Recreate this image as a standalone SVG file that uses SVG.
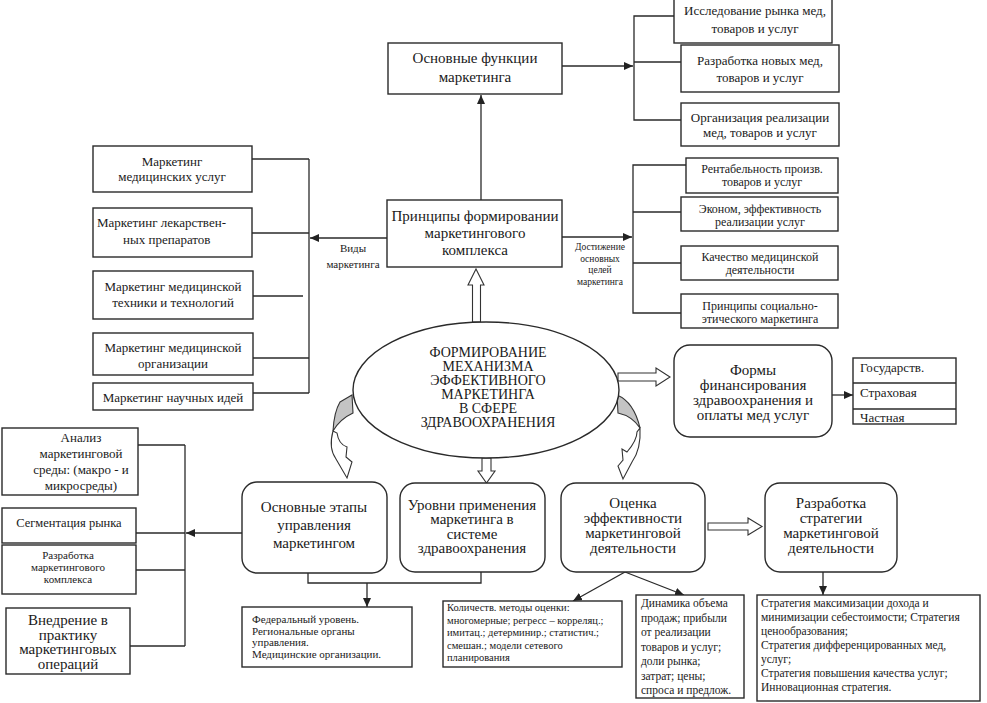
<svg xmlns="http://www.w3.org/2000/svg" width="987" height="703" viewBox="0 0 987 703" font-family="Liberation Serif, serif">
<style>
.box{fill:#fff;stroke:#2a2a2a;stroke-width:1.4}
.ln{fill:none;stroke:#2a2a2a;stroke-width:1.3}
.ar{fill:none;stroke:#2a2a2a;stroke-width:1.3;marker-end:url(#ah)}
.hol{fill:#fff;stroke:#333;stroke-width:1.1}
.gr{fill:#c4c4c4;stroke:#333;stroke-width:1.1}
text{fill:#1a1a1a}
.c{text-anchor:middle}
.f15{font-size:15px}
.f14{font-size:14px}
.f13{font-size:13px}
.f12{font-size:12px}
.f11{font-size:11.5px}
.f10{font-size:10.5px}
</style>
<defs>
<marker id="ah" markerUnits="userSpaceOnUse" markerWidth="9" markerHeight="8" refX="9" refY="4" orient="auto">
<path d="M0,0 L9,4 L0,8 Z" fill="#222"/>
</marker>
</defs>
<rect width="987" height="703" fill="#fff"/>

<g id="connectors">
<line class="ar" x1="562" y1="66" x2="633" y2="66"/>
<polyline class="ln" points="674,16 634,16 634,120 681,120"/>
<line class="ln" x1="634" y1="62" x2="681" y2="62"/>
<line class="ar" x1="481" y1="200" x2="481" y2="95"/>
<line class="ar" x1="387" y1="238" x2="310" y2="238"/>
<line class="ln" x1="309" y1="159" x2="309" y2="393"/>
<line class="ln" x1="252" y1="159" x2="309" y2="159"/>
<line class="ln" x1="252" y1="233" x2="309" y2="233"/>
<line class="ln" x1="253" y1="296" x2="303" y2="296"/>
<line class="ln" x1="253" y1="358" x2="309" y2="358"/>
<line class="ln" x1="253" y1="393" x2="309" y2="393"/>
<line class="ar" x1="562" y1="237" x2="632" y2="237"/>
<polyline class="ln" points="686,165 633,165 633,313 681,313"/>
<line class="ln" x1="633" y1="212" x2="681" y2="212"/>
<line class="ln" x1="633" y1="263" x2="681" y2="263"/>
<line class="ar" x1="832" y1="395" x2="853" y2="395"/>
<line class="ar" x1="242" y1="533" x2="186" y2="533"/>
<line class="ln" x1="185" y1="445" x2="185" y2="646"/>
<line class="ln" x1="138" y1="445" x2="185" y2="445"/>
<line class="ln" x1="136" y1="533" x2="185" y2="533"/>
<line class="ln" x1="136" y1="570" x2="185" y2="570"/>
<line class="ln" x1="130" y1="646" x2="185" y2="646"/>
<polyline class="ln" points="308,573 308,583 481,583 481,572"/>
<line class="ar" x1="367" y1="583" x2="367" y2="607"/>
<line class="ar" x1="625" y1="572" x2="573" y2="601"/>
<line class="ar" x1="625" y1="572" x2="684" y2="595"/>
<line class="ar" x1="823" y1="572" x2="823" y2="595"/>
<path class="hol" d="M472.5,322 L472.5,285 L468,285 L476,269 L484,285 L480.5,285 L480.5,322 Z"/>
<path class="hol" d="M618,373 L656,373 L656,368 L670,377 L656,386 L656,381 L618,381 Z"/>
<path class="hol" d="M482,458 L482,471 L478,471 L486.5,483 L495,471 L491,471 L491,458 Z"/>
<path class="hol" d="M708,523 L748,523 L748,518 L762,526.5 L748,535 L748,530 L708,530 Z"/>
<path class="gr" d="M340,402 L352,395 L353,413 Q340,419 333,431 Q334,412 340,402 Z"/>
<path class="hol" d="M333,431 C330,442 331,452 336,459 L347,478 L352,462 L346,457 L347,447 C341,445 338,440 337,433 Z"/>
<path class="gr" d="M617,395 Q634,402 640,428 Q632,416 618,413 Z"/>
<path class="hol" d="M640,428 C641,445 637,455 632,462 L623,479 L618,466 L623,460 L622,449 L627,452 C633,445 637,438 637,432 Z"/>
</g>

<g id="n-functions">
<rect class="box" x="388" y="43" width="174" height="51"/>
<text class="c f15" x="475" y="63">Основные функции</text>
<text class="c f15" x="475" y="82">маркетинга</text>
</g>
<g id="n-research">
<rect class="box" x="674" y="-2" width="158" height="45"/>
<text class="c f13" x="755" y="14.5">Исследование рынка мед,</text>
<text class="c f13" x="755" y="32.5">товаров и услуг</text>
</g>
<g id="n-newgoods">
<rect class="box" x="681" y="45" width="158" height="47"/>
<text class="c f13" x="760" y="64.5">Разработка новых мед,</text>
<text class="c f13" x="760" y="81.5">товаров и услуг</text>
</g>
<g id="n-sales">
<rect class="box" x="681" y="103" width="158" height="43"/>
<text class="c f13" x="760" y="122">Организация реализации</text>
<text class="c f13" x="760" y="137">мед, товаров  и услуг</text>
</g>

<g id="n-principles">
<rect class="box" x="387" y="200" width="175" height="67"/>
<text class="c f15" x="475" y="221">Принципы формировании</text>
<text class="c f15" x="475" y="238">маркетингового</text>
<text class="c f15" x="475" y="255">комплекса</text>
</g>
<g id="lbl-types">
<text class="c" style="font-size:11px" x="353" y="252">Виды</text>
<text class="c" style="font-size:11px" x="353" y="268">маркетинга</text>
</g>
<g id="lbl-goals">
<text class="c" style="font-size:9.5px" x="600" y="250">Достижение</text>
<text class="c" style="font-size:9.5px" x="600" y="261.5">основных</text>
<text class="c" style="font-size:9.5px" x="600" y="273">целей</text>
<text class="c" style="font-size:9.5px" x="600" y="284.5">маркетинга</text>
</g>

<g id="n-mk-services">
<rect class="box" x="93" y="146" width="159" height="46"/>
<text class="c f13" x="172" y="165.5">Маркетинг</text>
<text class="c f13" x="172" y="180.5">медицинских услуг</text>
</g>
<g id="n-mk-drugs">
<rect class="box" x="93" y="208" width="159" height="49"/>
<text class="f13" x="97" y="226.5">Маркетинг лекарствен-</text>
<text class="f13" x="123" y="243.5">ных препаратов</text>
</g>
<g id="n-mk-tech">
<rect class="box" x="93" y="271" width="160" height="48"/>
<text class="c f13" x="173" y="290.5">Маркетинг медицинской</text>
<text class="c f13" x="173" y="306.5">техники и технологий</text>
</g>
<g id="n-mk-org">
<rect class="box" x="93" y="333" width="160" height="42"/>
<text class="c f13" x="173" y="352">Маркетинг медицинской</text>
<text class="c f13" x="173" y="368">организации</text>
</g>
<g id="n-mk-ideas">
<rect class="box" x="93" y="383" width="160" height="27"/>
<text class="c f13" x="173" y="401.5">Маркетинг научных идей</text>
</g>

<g id="n-profit">
<rect class="box" x="686" y="158" width="152" height="35"/>
<text class="c f12" x="762" y="172.5">Рентабельность  произв.</text>
<text class="c f12" x="762" y="185.5">товаров и услуг</text>
</g>
<g id="n-econ">
<rect class="box" x="681" y="197" width="157" height="34"/>
<text class="c f12" x="760" y="213">Эконом, эффективность</text>
<text class="c f12" x="760" y="226">реализации услуг</text>
</g>
<g id="n-quality">
<rect class="box" x="681" y="246" width="157" height="34"/>
<text class="c f12" x="760" y="261">Качество медицинской</text>
<text class="c f12" x="760" y="274">деятельности</text>
</g>
<g id="n-social">
<rect class="box" x="681" y="294" width="157" height="34"/>
<text class="c f12" x="760" y="309.5">Принципы социально-</text>
<text class="c f12" x="760" y="323">этического маркетинга</text>
</g>

<g id="n-center">
<ellipse class="box" cx="486" cy="390" rx="133" ry="68"/>
<text class="c f14" x="488" y="357">ФОРМИРОВАНИЕ</text>
<text class="c f14" x="488" y="371">МЕХАНИЗМА</text>
<text class="c f14" x="488" y="385">ЭФФЕКТИВНОГО</text>
<text class="c f14" x="488" y="399">МАРКЕТИНГА</text>
<text class="c f14" x="488" y="413">В СФЕРЕ</text>
<text class="c f14" x="488" y="427">ЗДРАВООХРАНЕНИЯ</text>
</g>

<g id="n-financing">
<rect class="box" x="674" y="345" width="158" height="92" rx="16"/>
<text class="c f15" x="753" y="375">Формы</text>
<text class="c f15" x="753" y="390">финансирования</text>
<text class="c f15" x="753" y="405">здравоохранения и</text>
<text class="c f15" x="753" y="420">оплаты мед услуг</text>
</g>
<g id="n-fin-types">
<rect class="box" x="853" y="358" width="103" height="66"/>
<line class="ln" x1="853" y1="383" x2="956" y2="383"/>
<line class="ln" x1="853" y1="409" x2="956" y2="409"/>
<text class="f13" x="860" y="371.5">Государств.</text>
<text class="f13" x="860" y="396.5">Страховая</text>
<text class="f13" x="860" y="421.5">Частная</text>
</g>

<g id="n-analysis">
<rect class="box" x="2" y="428" width="136" height="67"/>
<text class="c f13" x="81" y="441.5">Анализ</text>
<text class="c f13" x="81" y="457.5">маркетинговой</text>
<text class="c f13" x="81" y="473.5">среды: (макро -  и</text>
<text class="c f13" x="81" y="489.5">микросреды)</text>
</g>
<g id="n-segment">
<rect class="box" x="2" y="508" width="134" height="35"/>
<text class="c" style="font-size:12.5px" x="69" y="527">Сегментация рынка</text>
</g>
<g id="n-mixdev">
<rect class="box" x="2" y="545" width="134" height="49"/>
<text class="c" style="font-size:11px" x="68" y="559">Разработка</text>
<text class="c" style="font-size:11px" x="68" y="571">маркетингового</text>
<text class="c" style="font-size:11px" x="68" y="583">комплекса</text>
</g>
<g id="n-implement">
<rect class="box" x="6" y="608" width="124" height="66"/>
<text class="c f15" x="68" y="625">Внедрение в</text>
<text class="c f15" x="68" y="639.5">практику</text>
<text class="c f15" x="68" y="654">маркетинговых</text>
<text class="c f15" x="68" y="668.5">операций</text>
</g>

<g id="n-stages">
<rect class="box" x="242" y="482" width="145" height="91" rx="15"/>
<text class="c f15" x="314" y="511.5">Основные этапы</text>
<text class="c f15" x="314" y="529.5">управления</text>
<text class="c f15" x="314" y="548">маркетингом</text>
</g>
<g id="n-levels">
<rect class="box" x="400" y="483" width="145" height="89" rx="15"/>
<text class="c f15" x="472" y="509.5">Уровни применения</text>
<text class="c f15" x="472" y="524">маркетинга в</text>
<text class="c f15" x="472" y="538.5">системе</text>
<text class="c f15" x="472" y="553">здравоохранения</text>
</g>
<g id="n-evaluation">
<rect class="box" x="561" y="483" width="144" height="89" rx="15"/>
<text class="c f15" x="633" y="508">Оценка</text>
<text class="c f15" x="633" y="523">эффективности</text>
<text class="c f15" x="633" y="538">маркетинговой</text>
<text class="c f15" x="633" y="553">деятельности</text>
</g>
<g id="n-strategy">
<rect class="box" x="765" y="483" width="132" height="89" rx="15"/>
<text class="c f15" x="831" y="508">Разработка</text>
<text class="c f15" x="831" y="523">стратегии</text>
<text class="c f15" x="831" y="538">маркетинговой</text>
<text class="c f15" x="831" y="553">деятельности</text>
</g>

<g id="n-federal">
<rect class="box" x="242" y="607" width="170" height="60"/>
<text style="font-size:11px" x="252" y="623">Федеральный уровень.</text>
<text style="font-size:11px" x="252" y="634.5">Региональные органы</text>
<text style="font-size:11px" x="252" y="646">управления.</text>
<text style="font-size:11px" x="252" y="658">Медицинские  организации.</text>
</g>
<g id="n-methods">
<rect class="box" x="443" y="601" width="179" height="66"/>
<text class="f10" x="447" y="611">Количеств. методы оценки:</text>
<text class="f10" x="447" y="623.5">многомерные; регресс – корреляц.;</text>
<text class="f10" x="447" y="636">имитац.;  детерминир.; статистич.;</text>
<text class="f10" x="447" y="648.5">смешан.; модели сетевого</text>
<text class="f10" x="447" y="661">планирования</text>
</g>
<g id="n-dynamics">
<rect class="box" x="636" y="595" width="108" height="103"/>
<text class="f11" x="641" y="607">Динамика объема</text>
<text class="f11" x="641" y="621.5">продаж; прибыли</text>
<text class="f11" x="641" y="636">от реализации</text>
<text class="f11" x="641" y="650.5">товаров и услуг;</text>
<text class="f11" x="641" y="665">доли рынка;</text>
<text class="f11" x="641" y="679.5">затрат; цены;</text>
<text class="f11" x="641" y="694">спроса и предлож.</text>
</g>
<g id="n-strategies">
<rect class="box" x="757" y="595" width="223" height="106"/>
<text class="f11" x="761" y="607">Стратегия максимизации  дохода и</text>
<text class="f11" x="761" y="621">минимизации себестоимости;  Стратегия</text>
<text class="f11" x="761" y="635">ценообразования;</text>
<text class="f11" x="761" y="649">Стратегия дифференцированных   мед,</text>
<text class="f11" x="761" y="663">услуг;</text>
<text class="f11" x="761" y="677">Стратегия повышения качества услуг;</text>
<text class="f11" x="761" y="691">Инновационная стратегия.</text>
</g>
</svg>
